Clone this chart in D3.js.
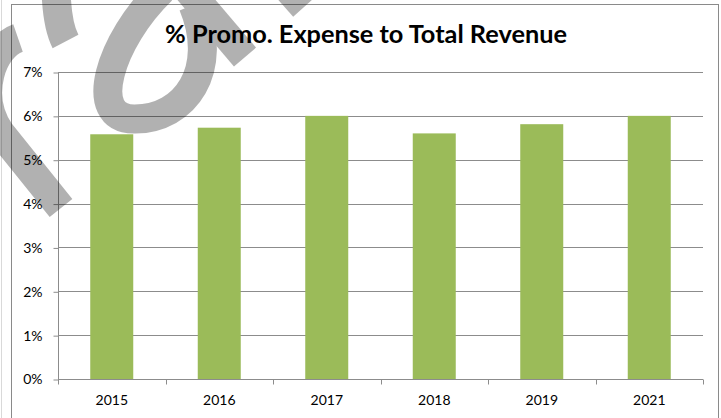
<!DOCTYPE html>
<html><head><meta charset="utf-8">
<script src="https://cdn.jsdelivr.net/npm/d3@7/dist/d3.min.js"></script>
<style>
html,body{margin:0;padding:0;background:#fff;}
svg{display:block;}
text{font-family:Lato,"Open Sans",sans-serif;fill:#000;}
</style></head>
<body>
<svg id="chart" width="721" height="418"></svg>
<script>
const title = "% Promo. Expense to Total Revenue";
const years = ["2015", "2016", "2017", "2018", "2019", "2021"];
const values = [5.58, 5.73, 6.0, 5.60, 5.81, 6.0];
const yTicks = [0, 1, 2, 3, 4, 5, 6, 7];

const svg = d3.select("#chart");
const W = 721, H = 418;
const plot = {left: 58, right: 703, top: 72, bottom: 379};

// outer chart border
svg.append("rect").attr("x", 11.5).attr("y", 4.5).attr("width", 707).attr("height", 430)
  .attr("fill", "#fff").attr("stroke", "#8a8a8a").attr("stroke-width", 1);
svg.append("line").attr("x1", 1.5).attr("x2", 1.5).attr("y1", 0).attr("y2", H)
  .attr("stroke", "#d9d9d9");

const x = d3.scaleBand().domain(years).range([plot.left, plot.right])
  .paddingInner(0.6).paddingOuter(0.3);
const y = d3.scaleLinear().domain([0, 7]).range([plot.bottom, plot.top]);

// gridlines
svg.append("g").selectAll("line").data(yTicks.filter(d => d > 0)).join("line")
  .attr("x1", plot.left).attr("x2", plot.right)
  .attr("y1", d => Math.round(y(d)) + 0.5).attr("y2", d => Math.round(y(d)) + 0.5)
  .attr("stroke", "#8c8c8c").attr("stroke-width", 1);

// bars
svg.append("g").selectAll("rect").data(years).join("rect")
  .attr("x", d => x(d)).attr("width", x.bandwidth())
  .attr("y", (d, i) => y(values[i])).attr("height", (d, i) => y(0) - y(values[i]))
  .attr("fill", "#9bbb59");

// y axis
const yAxis = d3.axisLeft(y).tickValues(yTicks).tickFormat(d => d + "%").tickSize(5).tickPadding(11);
const gy = svg.append("g").attr("transform", `translate(${plot.left + 0.5},0.5)`).call(yAxis);
gy.select(".domain").attr("stroke", "#8c8c8c").attr("d", `M0,${plot.top}V${plot.bottom}`);
gy.selectAll(".tick line").attr("stroke", "#8c8c8c");
gy.selectAll(".tick text").style("font-family", "Lato, 'Open Sans', sans-serif")
  .style("font-size", "14px").attr("fill", "#000");

// x axis
const xAxis = d3.axisBottom(x).tickSize(0).tickPadding(16);
const gx = svg.append("g").attr("transform", `translate(0,${plot.bottom + 0.5})`).call(xAxis);
gx.select(".domain").attr("stroke", "#8c8c8c").attr("d", `M${plot.left},0H${plot.right}`);
gx.selectAll(".tick text").style("font-family", "Lato, 'Open Sans', sans-serif")
  .style("font-size", "14px").attr("fill", "#000");
const gap = (x.step() - x.bandwidth()) / 2;
const bounds = years.map(d => x(d) - gap).concat([x(years[years.length - 1]) + x.bandwidth() + gap]);
gx.append("g").selectAll("line").data(bounds).join("line")
  .attr("x1", d => Math.round(d) + 0.5).attr("x2", d => Math.round(d) + 0.5)
  .attr("y1", 0).attr("y2", 5).attr("stroke", "#8c8c8c");

// title
const t = svg.append("text").attr("x", 366).attr("y", 43).attr("text-anchor", "middle")
  .style("font-weight", "bold").style("font-size", "22px").text(title);
const tw = t.node().getComputedTextLength();
t.style("font-size", (22 * 402 / tw).toFixed(2) + "px");

// decorative watermark strokes over the picture
const wm = svg.append("g").attr("opacity", 0.3).attr("fill", "none")
  .attr("stroke", "#000").attr("stroke-width", 29).attr("stroke-linecap", "butt");
wm.append("path").attr("d", "M18,38 C-8,47 -25,95 0,132 L61,208");
wm.append("path").attr("d", "M56,-10 Q57,25 65.5,41.5");
wm.append("path").attr("d", "M162,-10 C110,40 85,120 135,119 C185,119 220,70 193,5");
wm.append("path").attr("d", "M188,-10 L245,57");
wm.append("path").attr("d", "M280,-20 L304,7");
</script>
</body></html>
